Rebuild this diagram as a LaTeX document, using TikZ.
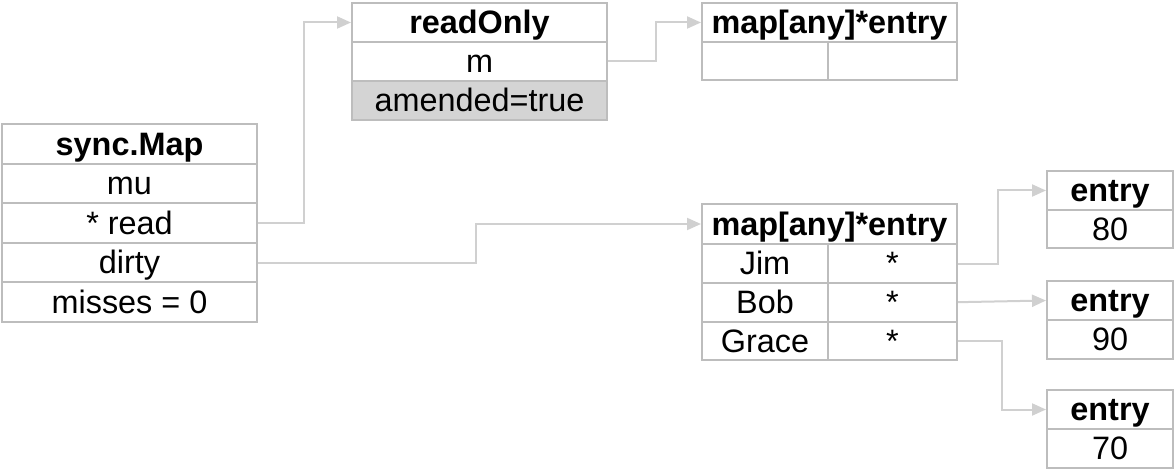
\documentclass[tikz,border=0pt]{standalone}
\usepackage{fontspec}
\setmainfont{Liberation Sans}
\usetikzlibrary{arrows.meta}
\definecolor{bordercol}{HTML}{BDBDBD}
\definecolor{conncol}{HTML}{D0D0D0}
\definecolor{fillgray}{HTML}{D4D4D4}
\begin{document}
\begin{tikzpicture}[x=0.75pt,y=-0.75pt,
  cell/.style={draw=bordercol, line width=1.5pt, inner sep=0pt, text height=17pt, text depth=0pt, font=\fontsize{24.3}{27}\selectfont},
  hcell/.style={cell, font=\fontsize{24.3}{27}\selectfont\bfseries},
  wide/.style={minimum width=191.25pt},
  conn/.style={draw=conncol, line width=1.5pt, -{Triangle[length=10.5pt,width=9pt,fill=conncol]}}
]
\useasboundingbox (0,0) rectangle (1176,470);
% sync.Map
\node[hcell, wide, minimum height=29.7pt] (stitle) at (129.5,143.8) {sync.Map};
\node[cell, wide, minimum height=29.7pt] (smu) at (129.5,183.4) {mu};
\node[cell, wide, minimum height=29.7pt] (sread) at (129.5,223) {* read};
\node[cell, wide, minimum height=29.7pt] (sdirty) at (129.5,262.6) {dirty};
\node[cell, wide, minimum height=29.7pt] (smiss) at (129.5,302.2) {misses = 0};
% readOnly
\node[hcell, wide, minimum height=29.25pt] (rotitle) at (479.5,22.5) {readOnly};
\node[cell, wide, minimum height=29.25pt] (rom) at (479.5,61.5) {m};
\node[cell, wide, minimum height=29.25pt, fill=fillgray] (roam) at (479.5,100.5) {amended=true};
% top map
\node[hcell, wide, minimum height=29.25pt] (mtitle) at (829.5,22.5) {map[any]*entry};
\node[cell, minimum width=94.5pt, minimum height=28.5pt] (mk) at (765,61) {};
\node[cell, minimum width=96.75pt, minimum height=28.5pt] (mv) at (892.5,61) {};
% bottom map
\node[hcell, wide, minimum height=30pt] (m2title) at (829.5,224) {map[any]*entry};
\node[cell, minimum width=94.5pt, minimum height=29pt] (jimk) at (765,263.5) {Jim};
\node[cell, minimum width=96.75pt, minimum height=29pt] (jimv) at (892.5,263.5) {*};
\node[cell, minimum width=94.5pt, minimum height=29pt] (bobk) at (765,302.2) {Bob};
\node[cell, minimum width=96.75pt, minimum height=29pt] (bobv) at (892.5,302.2) {*};
\node[cell, minimum width=94.5pt, minimum height=29pt] (gracek) at (765,340.9) {Grace};
\node[cell, minimum width=96.75pt, minimum height=29pt] (gracev) at (892.5,340.9) {*};
% entries
\node[hcell, minimum width=94.5pt, minimum height=29.25pt] (e1t) at (1110,190.5) {entry};
\node[cell, minimum width=94.5pt, minimum height=28.5pt] (e1v) at (1110,229) {80};
\node[hcell, minimum width=94.5pt, minimum height=29.25pt] (e2t) at (1110,300.5) {entry};
\node[cell, minimum width=94.5pt, minimum height=29.25pt] (e2v) at (1110,339.5) {90};
\node[hcell, minimum width=94.5pt, minimum height=29.25pt] (e3t) at (1110,409.5) {entry};
\node[cell, minimum width=94.5pt, minimum height=29.25pt] (e3v) at (1110,448.5) {70};
% connectors
\draw[conn] (sread.east) -- ++(46,0) |- (rotitle.west);
\draw[conn] (rom.east) -- ++(48,0) |- (mtitle.west);
\draw[conn] (sdirty.east) -- ++(218,0) |- (m2title.west);
\draw[conn] (jimv.east) -- ++(40,0) |- (e1t.west);
\draw[conn] (bobv.east) -- (e2t.west);
\draw[conn] (gracev.east) -- ++(44,0) |- (e3t.west);
\end{tikzpicture}
\end{document}
